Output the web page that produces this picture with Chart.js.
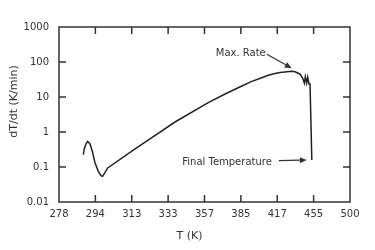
<!DOCTYPE html>
<html>
<head>
<meta charset="utf-8">
<script src="https://cdn.jsdelivr.net/npm/chart.js@4"></script>
<style>
  html, body { margin: 0; padding: 0; background: #fff; }
  canvas { display: block; }
</style>
</head>
<body>
<canvas id="c" width="375" height="250"></canvas>
<script>
// ---- data ----
const temps = [288.5, 288.9, 289.7, 290.5, 291.6, 292.7, 293.9, 295.5, 296.8, 297.6, 298.8, 300.1,
               314.3, 322.6, 337.6, 359.8, 372.2, 385.4, 393.7, 402.4, 408.3, 414.6, 419.4, 424.3, 431.0, 434.4,
               439.7, 442.5, 444.3, 445.3, 446.8, 447.9, 449.4, 450.5, 452.5];
const rates = [0.225, 0.327, 0.454, 0.54, 0.454, 0.279, 0.135, 0.075, 0.0564, 0.054, 0.070, 0.094,
               0.33, 0.64, 1.93, 6.9, 12.2, 20.6, 27.9, 35.6, 41.7, 47.2, 50.1, 51.8, 54.6, 52.8,
               44.8, 34.4, 24.8, 38, 24.8, 36.8, 23.5, 23.5, 0.158];
const xTickLabels = [278, 294, 313, 333, 357, 385, 417, 455, 500];
const yTickLabels = ['0.01', '0.1', '1', '10', '100', '1000'];
const xTitle = 'T (K)';
const yTitle = 'dT/dt (K/min)';
const maxLabel = 'Max. Rate';
const finalLabel = 'Final Temperature';

const FONT = '"DejaVu Sans", sans-serif';
const INK = '#333';

// x axis is reciprocal temperature (1000/T), drawn reversed
const points = temps.map((t, i) => ({ x: 1000 / t, y: rates[i] }));
const xTickVals = xTickLabels.map(l => Math.round(5000 / l) / 5);
const yTickVals = yTickLabels.map(Number);

function arrow(ctx, x0, y0, x1, y1) {
  const ang = Math.atan2(y1 - y0, x1 - x0);
  const L = 7, W = 3;
  const bx = x1 - L * Math.cos(ang), by = y1 - L * Math.sin(ang);
  ctx.beginPath();
  ctx.moveTo(x0, y0);
  ctx.lineTo(bx, by);
  ctx.stroke();
  ctx.beginPath();
  ctx.moveTo(x1, y1);
  ctx.lineTo(bx + W * Math.sin(ang), by - W * Math.cos(ang));
  ctx.lineTo(bx - W * Math.sin(ang), by + W * Math.cos(ang));
  ctx.closePath();
  ctx.fill();
}

const framePlugin = {
  id: 'frame',
  afterDraw(chart) {
    const { ctx, chartArea: a, scales: { x, y } } = chart;
    ctx.save();
    ctx.strokeStyle = INK;
    ctx.fillStyle = INK;
    ctx.lineWidth = 1.5;
    ctx.strokeRect(a.left, a.top, a.right - a.left, a.bottom - a.top);
    const TL = 7;
    ctx.beginPath();
    xTickVals.forEach(v => {
      const px = x.getPixelForValue(v);
      if (px <= a.left + 1 || px >= a.right - 1) return;
      ctx.moveTo(px, a.bottom); ctx.lineTo(px, a.bottom - TL);
      ctx.moveTo(px, a.top); ctx.lineTo(px, a.top + TL);
    });
    yTickVals.forEach(v => {
      const py = y.getPixelForValue(v);
      if (py <= a.top + 1 || py >= a.bottom - 1) return;
      ctx.moveTo(a.left, py); ctx.lineTo(a.left + TL, py);
      ctx.moveTo(a.right, py); ctx.lineTo(a.right - TL, py);
    });
    ctx.stroke();

    // axis titles
    ctx.font = '11px ' + FONT;
    ctx.textAlign = 'center';
    ctx.textBaseline = 'middle';
    ctx.fillText(xTitle, (a.left + a.right) / 2 - 15, a.bottom + 34);
    ctx.save();
    ctx.translate(a.left - 45, (a.top + a.bottom) / 2 - 13);
    ctx.rotate(-Math.PI / 2);
    ctx.fillText(yTitle, 0, 0);
    ctx.restore();

    // annotations
    ctx.font = '10px ' + FONT;
    ctx.lineWidth = 1.2;
    let im = 0;
    rates.forEach((r, i) => { if (r > rates[im]) im = i; });
    const mx = x.getPixelForValue(1000 / temps[im]);
    const my = y.getPixelForValue(rates[im]) - 3;
    arrow(ctx, mx - 25, my - 14, mx, my);
    ctx.textAlign = 'right';
    ctx.fillText(maxLabel, mx - 26, my - 15);

    const last = temps.length - 1;
    const fx = x.getPixelForValue(1000 / temps[last]) - 5;
    const fy = y.getPixelForValue(rates[last]);
    arrow(ctx, fx - 28, fy + 0.5, fx, fy);
    ctx.fillText(finalLabel, fx - 35, fy + 2);
    ctx.restore();
  }
};

new Chart(document.getElementById('c'), {
  type: 'line',
  data: {
    datasets: [{
      data: points,
      borderColor: '#222',
      borderWidth: 1.5,
      pointRadius: 0,
      fill: false,
      tension: 0
    }]
  },
  options: {
    responsive: false,
    animation: false,
    devicePixelRatio: 1,
    layout: { padding: { top: 27, right: 25, left: 0, bottom: 0 } },
    plugins: { legend: { display: false }, tooltip: { enabled: false } },
    scales: {
      x: {
        type: 'linear',
        reverse: true,
        min: 2.0,
        max: 3.6,
        grid: { display: false, drawTicks: false },
        border: { display: false },
        afterBuildTicks: s => { s.ticks = xTickVals.map(v => ({ value: v })); },
        afterFit: s => { s.height = 48; },
        ticks: {
          autoSkip: false,
          maxRotation: 0,
          padding: 6,
          color: INK,
          font: { family: FONT, size: 10 },
          callback: (v, i) => String(xTickLabels[i])
        }
      },
      y: {
        type: 'logarithmic',
        min: 0.01,
        max: 1000,
        grid: { display: false, drawTicks: false },
        border: { display: false },
        afterBuildTicks: s => { s.ticks = yTickVals.map(v => ({ value: v })); },
        afterFit: s => { s.width = 59; },
        ticks: {
          autoSkip: false,
          padding: 10,
          color: INK,
          font: { family: FONT, size: 10 },
          callback: (v, i) => yTickLabels[i]
        }
      }
    }
  },
  plugins: [framePlugin]
});
</script>
</body>
</html>
